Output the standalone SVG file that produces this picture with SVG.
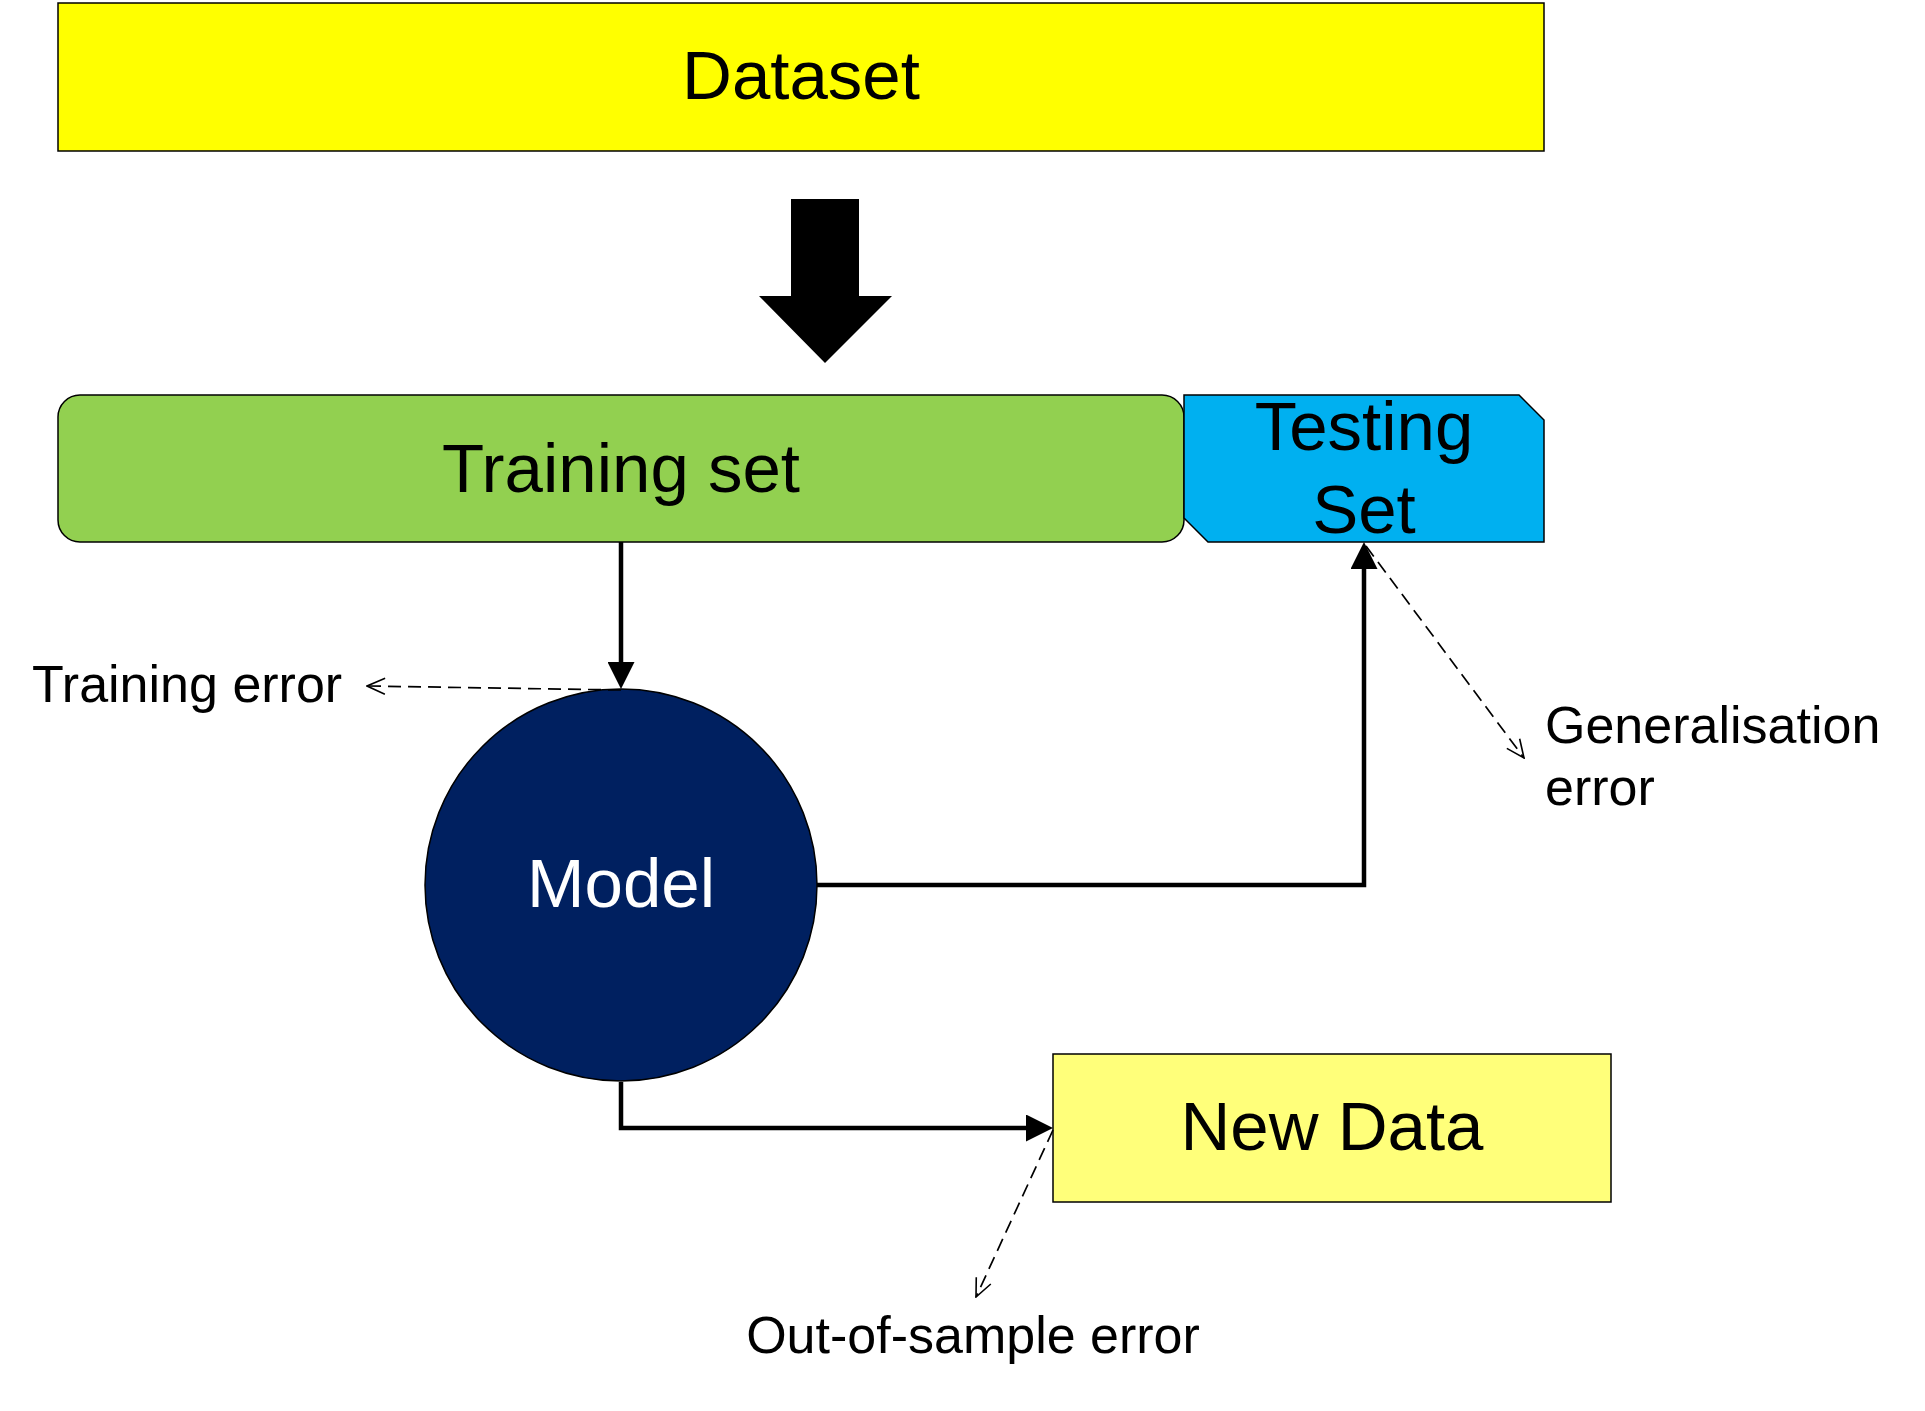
<svg xmlns="http://www.w3.org/2000/svg" width="1925" height="1411" viewBox="0 0 1925 1411">
  <style>
    .box { stroke: #000; stroke-width: 1.5; }
    .lbl { font-family: "Liberation Sans", Arial, sans-serif; fill: #000; }
    .big { font-size: 69px; text-anchor: middle; }
    .note { font-size: 52px; }
    .flow { fill: none; stroke: #000; stroke-width: 4.5; }
    .dash { fill: none; stroke: #000; stroke-width: 1.7; stroke-dasharray: 13 7; }
  </style>
  <defs>
    <marker id="solidHead" viewBox="0 0 27 27" markerWidth="27" markerHeight="27" refX="17" refY="13.5" orient="auto" markerUnits="userSpaceOnUse">
      <path d="M0,0 L27,13.5 L0,27 z" fill="#000"/>
    </marker>
    <marker id="openHead" viewBox="0 0 20 20" markerWidth="20" markerHeight="20" refX="19" refY="10" orient="auto" markerUnits="userSpaceOnUse">
      <path d="M1,2 L19,10 L1,18" fill="none" stroke="#000" stroke-width="1.6"/>
    </marker>
  </defs>

  <rect width="1925" height="1411" fill="#fff"/>

  <!-- Dataset -->
  <g id="dataset">
    <rect class="box" x="58" y="3" width="1486" height="148" fill="#FFFF00"/>
    <text class="lbl big" x="801" y="99">Dataset</text>
  </g>

  <!-- Block arrow from dataset to the split -->
  <g id="split-arrow">
    <polygon points="791,199 859,199 859,296 892,296 825,363 759,296 791,296" fill="#000"/>
  </g>

  <!-- Training set -->
  <g id="training-set">
    <rect class="box" x="58" y="395" width="1126" height="147" rx="22" ry="22" fill="#92D050"/>
    <text class="lbl big" x="621" y="492">Training set</text>
  </g>

  <!-- Testing set -->
  <g id="testing-set">
    <polygon class="box" points="1184,395 1519,395 1544,420 1544,542 1208,542 1184,518" fill="#00B0F0"/>
    <text class="lbl big" x="1364" y="450">Testing</text>
    <text class="lbl big" x="1364" y="533">Set</text>
  </g>

  <!-- Model -->
  <g id="model">
    <circle class="box" cx="621" cy="885" r="196" fill="#002060"/>
    <text class="lbl big" x="621" y="907" style="fill:#fff">Model</text>
  </g>

  <!-- New data -->
  <g id="new-data">
    <rect class="box" x="1053" y="1054" width="558" height="148" fill="#FFFF7A"/>
    <text class="lbl big" x="1332" y="1150">New Data</text>
  </g>

  <!-- Error labels -->
  <g id="training-error">
    <text class="lbl note" x="32" y="702">Training error</text>
  </g>
  <g id="generalisation-error">
    <text class="lbl note" x="1545" y="743">Generalisation</text>
    <text class="lbl note" x="1545" y="805">error</text>
  </g>
  <g id="out-of-sample-error">
    <text class="lbl note" x="973" y="1353" text-anchor="middle">Out-of-sample error</text>
  </g>

  <!-- Connectors -->
  <g id="connectors">
    <path class="flow" d="M621,542 V679" marker-end="url(#solidHead)"/>
    <path class="flow" d="M817,885 H1364 V552" marker-end="url(#solidHead)"/>
    <path class="flow" d="M621,1082 V1128 H1043" marker-end="url(#solidHead)"/>
    <path class="dash" d="M621,690 L367,686" marker-end="url(#openHead)"/>
    <path class="dash" d="M1366,546 L1524,758" marker-end="url(#openHead)"/>
    <path class="dash" d="M1053,1130 L976,1297" marker-end="url(#openHead)"/>
  </g>
</svg>
